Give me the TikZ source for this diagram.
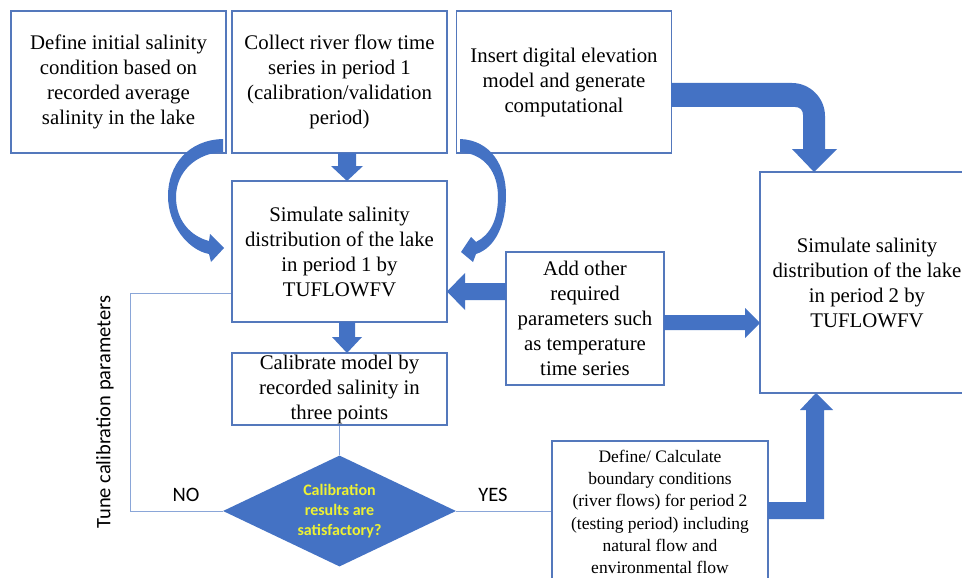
\documentclass[tikz,border=0pt]{standalone}
\usepackage{fontspec}
\setmainfont{Liberation Serif}
\newfontfamily\calfont{Carlito}
\usetikzlibrary{shapes.geometric,calc}
\definecolor{obl}{HTML}{4472C4}
\definecolor{bord}{HTML}{5478BC}
\definecolor{lnk}{HTML}{8AA6D8}
\definecolor{yel}{RGB}{238,242,50}
\begin{document}
\begin{tikzpicture}[x=1pt,y=-1pt,
  box/.style={draw=bord,line width=1.1pt,fill=white,inner sep=0pt,align=center,
     font=\fontsize{20.8}{25}\selectfont},
  conn/.style={draw=lnk,line width=1pt},
  blk/.style={fill=obl,draw=none},
  lab/.style={font=\calfont\fontsize{20.5}{24}\selectfont}]
\useasboundingbox (0,0) rectangle (962,578);
\clip (0,0) rectangle (962,578);
\fill[white] (0,0) rectangle (962,578);
% boxes
\node[box,minimum width=215pt,minimum height=142pt] (A) at (118.5,82)
  {Define initial salinity\\condition based on\\recorded average\\salinity in the lake};
\node[box,minimum width=215pt,minimum height=142pt] (B) at (339.5,82)
  {Collect river flow time\\series in period 1\\(calibration/validation\\period)};
\node[box,minimum width=215pt,minimum height=142pt] (C) at (564,82)
  {Insert digital elevation\\model and generate\\computational};
\node[box,minimum width=215pt,minimum height=141pt] (D) at (339.5,251.5)
  {Simulate salinity\\distribution of the lake\\in period 1 by\\TUFLOWFV};
\node[box,minimum width=215pt,minimum height=72pt] (E) at (339.5,389)
  {Calibrate model by\\recorded salinity in\\three points};
\node[box,minimum width=158pt,minimum height=133pt] (F) at (585,318.5)
  {Add other\\required\\parameters such\\as temperature\\time series};
\node[box,minimum width=214pt,minimum height=221pt] (G) at (867,282.5)
  {Simulate salinity\\distribution of the lake\\in period 2 by\\TUFLOWFV};
\node[box,minimum width=216pt,minimum height=142pt,font=\fontsize{17.5}{22.3}\selectfont] (H) at (660,512)
  {Define/ Calculate\\boundary conditions\\(river flows) for period 2\\(testing period) including\\natural flow and\\environmental flow};
% decision
\node[diamond,aspect=2.1,fill=obl,draw=none,inner sep=0pt,minimum width=233pt,minimum height=111pt,
  align=center,text=yel,font=\calfont\bfseries\fontsize{16}{19.7}\selectfont] (dia) at (339.5,511)
  {Calibration\\results are\\satisfactory?};
% thin connectors
\coordinate (lp) at (130,293);
\draw[conn] (dia.west) -| (lp) -- (D.west |- lp);
\draw[conn] (E.south) -- (dia.north);
\draw[conn] (dia.east) -- (dia.east -| H.west);
% labels
\node[lab,rotate=90] (tune) at (105,412) {Tune calibration parameters};
\node[lab] (no) at (186,495) {NO};
\node[lab] (yes) at (493,495) {YES};
% straight block arrows
\fill[blk] (338,153) -- (356,153) -- (356,166) -- (363,166) -- (347,181) -- (331,166) -- (338,166) -- cycle;
\fill[blk] (339,322) -- (355,322) -- (355,337) -- (362,337) -- (347,353) -- (332,337) -- (339,337) -- cycle;
\fill[blk] (506,283) -- (465,283) -- (465,273) -- (447,291.5) -- (465,310) -- (465,300) -- (506,300) -- cycle;
\fill[blk] (664,315) -- (745,315) -- (745,308) -- (760,323) -- (745,338) -- (745,330) -- (664,330) -- cycle;
% bent arrows
\fill[blk] (671,83) -- (792,83) .. controls (810,83) and (825,98) .. (825,116) -- (825,149) -- (837,149)
  -- (814,172) -- (792,149) -- (803,149) -- (803,115) .. controls (803,110) and (800,107) .. (795,107)
  -- (671,107) -- cycle;
\fill[blk] (768,502) -- (806,502) -- (806,410) -- (800,410) -- (816,393) -- (833,410) -- (824,410)
  -- (824,519) -- (768,519) -- cycle;
% curved arrows
\fill[blk] (223,139) .. controls (188,140) and (168,165) .. (168,196) .. controls (168,225) and (188,250) .. (209,254)
  -- (211,262) -- (224,248) -- (210,234) -- (209,241)
  .. controls (190,236) and (176,220) .. (176,197) .. controls (176,172) and (196,153) .. (223,152) -- cycle;
\fill[blk] (460,139) .. controls (490,140) and (506,165) .. (506,195) .. controls (506,225) and (495,248) .. (476,254)
  -- (473,262) -- (461,252) -- (471,237) -- (476,242)
  .. controls (490,235) and (498,220) .. (498,197) .. controls (498,172) and (485,154) .. (460,152) -- cycle;
\end{tikzpicture}
\end{document}
